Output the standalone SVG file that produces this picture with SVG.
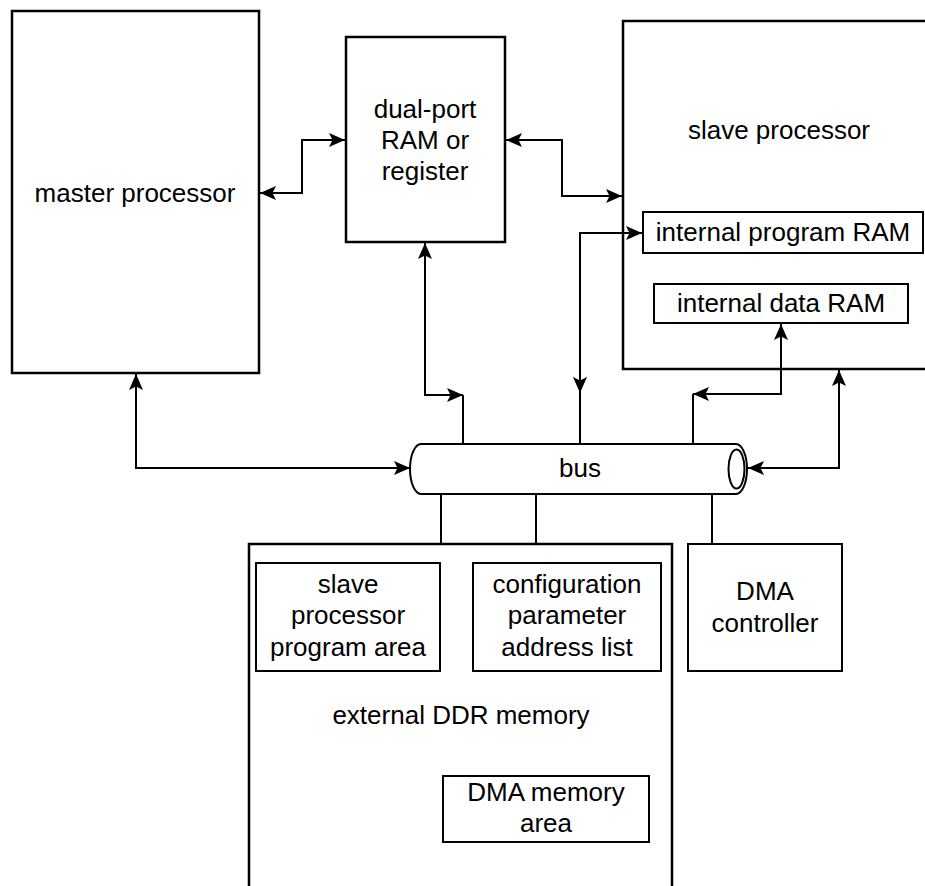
<svg xmlns="http://www.w3.org/2000/svg" width="925" height="886" viewBox="0 0 925 886">
  <defs>
    <style>
      .box { fill: #fff; stroke: #000; stroke-width: 2.5; }
      .sub { fill: #fff; stroke: #000; stroke-width: 2; }
      .wire { fill: none; stroke: #000; stroke-width: 2; }
      .tube { fill: #fff; stroke: #000; stroke-width: 2; }
      .lbl { font-family: "Liberation Sans", Arial, sans-serif; font-size: 26px; fill: #000; text-anchor: middle; }
    </style>
    <marker id="arrow" viewBox="0 0 17 17" refX="16" refY="8.5" markerWidth="17" markerHeight="17" markerUnits="userSpaceOnUse" orient="auto-start-reverse">
      <path d="M0,1.5 L16,8.5 L0,15.5 L3.5,8.5 z" fill="#000"/>
    </marker>
  </defs>

  <rect width="925" height="886" fill="#fff"/>

  <!-- master processor -->
  <g id="master">
    <rect class="box" x="12" y="11" width="247" height="362"/>
    <text class="lbl" x="135" y="202">master processor</text>
  </g>

  <!-- dual-port RAM -->
  <g id="dualport">
    <rect class="box" x="346" y="37" width="159" height="205"/>
    <text class="lbl" x="425" y="118">dual-port</text>
    <text class="lbl" x="425" y="149">RAM or</text>
    <text class="lbl" x="425" y="180">register</text>
  </g>

  <!-- slave processor -->
  <g id="slave">
    <rect class="box" x="623" y="21" width="320" height="348"/>
    <text class="lbl" x="779" y="139">slave processor</text>
  </g>
  <g id="program">
    <rect class="sub" x="643" y="212" width="280" height="41"/>
    <text class="lbl" x="783" y="241">internal program RAM</text>
  </g>
  <g id="dataram">
    <rect class="sub" x="654" y="284" width="254" height="39"/>
    <text class="lbl" x="781" y="312">internal data RAM</text>
  </g>

  <!-- bus -->
  <g id="bus">
    <path class="tube" d="M421,444 H736 A11,25 0 0 1 736,494 H421 A11,25 0 0 1 421,444 Z"/>
    <ellipse class="wire" cx="736.5" cy="469" rx="8" ry="19.5"/>
    <text class="lbl" x="580" y="477">bus</text>
  </g>

  <!-- external DDR memory -->
  <g id="ddr">
    <path class="box" d="M249,892 V544 H672 V892"/>
    <text class="lbl" x="461" y="724">external DDR memory</text>
  </g>
  <g id="slaveprog">
    <rect class="sub" x="256" y="563" width="184" height="108"/>
    <text class="lbl" x="348" y="593">slave</text>
    <text class="lbl" x="348" y="624">processor</text>
    <text class="lbl" x="348" y="656">program area</text>
  </g>
  <g id="config">
    <rect class="sub" x="473" y="563" width="188" height="108"/>
    <text class="lbl" x="567" y="593">configuration</text>
    <text class="lbl" x="567" y="624">parameter</text>
    <text class="lbl" x="567" y="656">address list</text>
  </g>
  <g id="dmaarea">
    <rect class="sub" x="443" y="776" width="206" height="66"/>
    <text class="lbl" x="546" y="801">DMA memory</text>
    <text class="lbl" x="546" y="832">area</text>
  </g>

  <!-- DMA controller -->
  <g id="dmactl">
    <rect class="sub" x="688" y="544" width="154" height="127"/>
    <text class="lbl" x="765" y="600">DMA</text>
    <text class="lbl" x="765" y="632">controller</text>
  </g>

  <!-- connectors -->
  <g id="connectors">
    <path class="wire" d="M260,193 H302 V140 H345" marker-start="url(#arrow)" marker-end="url(#arrow)"/>
    <path class="wire" d="M506,140 H562 V196 H622" marker-start="url(#arrow)" marker-end="url(#arrow)"/>
    <path class="wire" d="M425,243 V395 H463" marker-start="url(#arrow)" marker-end="url(#arrow)"/>
    <path class="wire" d="M463,395 V444"/>
    <path class="wire" d="M642,233 H580 V393" marker-start="url(#arrow)" marker-end="url(#arrow)"/>
    <path class="wire" d="M580,393 V444"/>
    <path class="wire" d="M781,324 V394 H693" marker-start="url(#arrow)" marker-end="url(#arrow)"/>
    <path class="wire" d="M693,394 V444"/>
    <path class="wire" d="M839,370 V468 H748" marker-start="url(#arrow)" marker-end="url(#arrow)"/>
    <path class="wire" d="M136,374 V468 H410" marker-start="url(#arrow)" marker-end="url(#arrow)"/>
    <path class="wire" d="M441,494 V544 M536,494 V544 M712,494 V544"/>
  </g>
</svg>
